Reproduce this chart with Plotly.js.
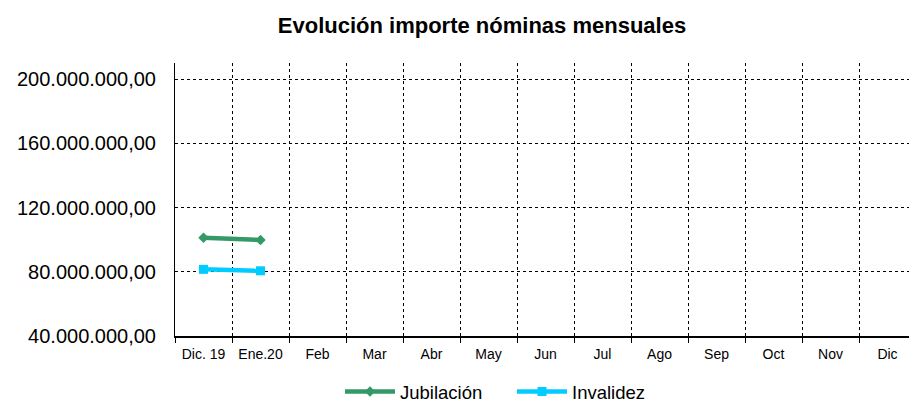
<!DOCTYPE html>
<html><head><meta charset="utf-8">
<script src="https://cdn.plot.ly/plotly-3.0.1.min.js"></script>
<style>html,body{margin:0;padding:0;overflow:hidden;background:#fff}#c{width:916px;height:403px}</style>
</head><body><div id="c"></div>
<script>
const categories = ["Dic. 19","Ene.20","Feb","Mar","Abr","May","Jun","Jul","Ago","Sep","Oct","Nov","Dic"];
const jubilacion = [101200000, 99800000];
const invalidez = [81500000, 80600000];
const yTicks = [40000000, 80000000, 120000000, 160000000, 200000000];
const yTickLabels = ["40.000.000,00","80.000.000,00","120.000.000,00","160.000.000,00","200.000.000,00"];

const traces = [
  {x: categories.slice(0, jubilacion.length), y: jubilacion, name: "Jubilación", type: "scatter", mode: "lines+markers",
   line: {color: "#339966", width: 4.5}, marker: {symbol: "diamond", size: 8, color: "#339966"}},
  {x: categories.slice(0, invalidez.length), y: invalidez, name: "Invalidez", type: "scatter", mode: "lines+markers",
   line: {color: "#00CCFF", width: 4.5}, marker: {symbol: "square", size: 9, color: "#00CCFF"}}
];
const layout = {
  width: 916, height: 403,
  margin: {l: 175, r: 0, t: 63, b: 67, autoexpand: false},
  paper_bgcolor: "#fff", plot_bgcolor: "#fff",
  font: {family: "Liberation Sans, Arial, sans-serif", color: "#000"},
  title: {text: "<b>Evolución importe nóminas mensuales</b>", font: {size: 22, color: "#000"}, x: 482/916, xref: "container", xanchor: "center", y: 1 - 25/403, yref: "container", yanchor: "middle"},
  xaxis: {type: "category", categoryorder: "array", categoryarray: categories, range: [-0.5, 12.5],
    tickson: "boundaries", ticks: "outside", ticklen: 5, tickcolor: "#000", tickangle: 0, automargin: false,
    showgrid: true, gridcolor: "#000", griddash: "dot", gridwidth: 1,
    showline: true, linecolor: "#000", linewidth: 1.5, tickfont: {size: 14}, ticklabelstandoff: 5, fixedrange: true},
  yaxis: {range: [40000000, 210000000], tickvals: yTicks, ticktext: yTickLabels, automargin: false,
    ticks: "", ticklabelstandoff: 14,
    showgrid: true, gridcolor: "#000", griddash: "dot", gridwidth: 1,
    showline: true, linecolor: "#000", linewidth: 1, tickfont: {size: 20}, zeroline: false, fixedrange: true},
  legend: {orientation: "h", x: (340 - 175) / 741, xref: "paper", xanchor: "left", y: (336 - 392) / 273, yref: "paper", yanchor: "middle",
    font: {size: 18.5}, entrywidth: 107, entrywidthmode: "pixels", itemwidth: 50, borderwidth: 0},
  showlegend: true
};
Plotly.newPlot("c", traces, layout, {displayModeBar: false, staticPlot: true});
</script></body></html>
